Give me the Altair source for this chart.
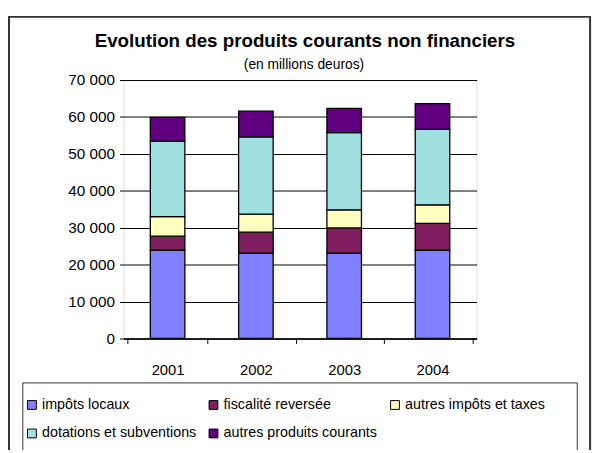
import altair as alt
import pandas as pd

years = ["2001", "2002", "2003", "2004"]
series = ["impôts locaux", "fiscalité reversée", "autres impôts et taxes",
          "dotations et subventions", "autres produits courants"]
impots_locaux = [23900, 23150, 23150, 23900]
fiscalite_reversee = [3800, 5650, 6800, 7300]
autres_impots = [5300, 4900, 4900, 5000]
dotations = [20450, 20900, 20900, 20450]
autres_produits = [6450, 6950, 6600, 6950]
colors = ["#8080FF", "#7F1F5F", "#FFFFC0", "#A0E0E0", "#600080"]
title_text = "Evolution des produits courants non financiers"
subtitle_text = "(en millions deuros)"

values = [impots_locaux, fiscalite_reversee, autres_impots, dotations, autres_produits]
rows = []
for si, (name, vals) in enumerate(zip(series, values)):
    for y, v in zip(years, vals):
        rows.append({"annee": y, "serie": name, "valeur": v, "ordre": si})
df = pd.DataFrame(rows)

FONT = "Liberation Sans"
W, H = 358, 262
PL, PT, PR, PB = 117, 70, 122, 110

bars = alt.Chart(df).mark_bar(size=35, stroke="black", strokeWidth=1.3).encode(
    x=alt.X("annee:N", title=None, sort=years,
            axis=alt.Axis(labelAngle=0, labelFont=FONT, labelFontSize=15,
                          labelColor="black", domainColor="black", domainWidth=1.5,
                          tickColor="black", tickSize=5, tickBand="extent",
                          labelPadding=19)),
    y=alt.Y("valeur:Q", stack="zero", title=None,
            scale=alt.Scale(domain=[0, 70000], nice=False),
            axis=alt.Axis(values=list(range(0, 70001, 10000)),
                          labelExpr="replace(format(datum.value, ','), ',', ' ')",
                          labelFont=FONT, labelFontSize=15.5, labelColor="black",
                          domain=False, tickColor="black", tickSize=4,
                          gridColor="black", gridWidth=1, labelPadding=5)),
    color=alt.Color("serie:N", sort=series,
                    scale=alt.Scale(domain=series, range=colors),
                    legend=alt.Legend(title=None, orient="none", legendX=-100,
                                      legendY=322, columns=3, direction="horizontal",
                                      gridAlign="all",
                                      symbolType="square", symbolSize=80,
                                      symbolStrokeColor="black", symbolStrokeWidth=1,
                                      labelFont=FONT, labelFontSize=14.5,
                                      labelColor="black", columnPadding=10,
                                      rowPadding=14, labelOffset=3)),
    order=alt.Order("ordre:Q", sort="ascending"),
)

one = pd.DataFrame({"a": [0]})
outer = alt.Chart(one).mark_rect(
    fill=None, stroke="#333333", strokeWidth=2, clip=False).encode(
    x=alt.value(-116), x2=alt.value(W + 115), y=alt.value(-64), y2=alt.value(H + 200))

legbox = alt.Chart(one).mark_rect(
    fill=None, stroke="#333333", strokeWidth=1, clip=False).encode(
    x=alt.value(-102), x2=alt.value(W + 102), y=alt.value(H + 45), y2=alt.value(H + 200))

title = alt.Chart(one).mark_text(
    font=FONT, fontSize=19, fontWeight="bold", color="black", align="center",
    baseline="alphabetic", clip=False).encode(
    x=alt.value(W / 2 + 5), y=alt.value(-33), text=alt.value(title_text))

subtitle = alt.Chart(one).mark_text(
    font=FONT, fontSize=14, color="black", align="center",
    baseline="alphabetic", clip=False).encode(
    x=alt.value(W / 2 + 4), y=alt.value(-11), text=alt.value(subtitle_text))

chart = alt.layer(outer, legbox, title, subtitle, bars).properties(
    width=W, height=H,
    autosize=alt.AutoSizeParams(type="none"),
    padding={"left": PL, "top": PT, "right": PR, "bottom": PB},
).configure_view(
    fill="#C0C0C0", stroke="#808080", strokeWidth=2
).configure(background="white")

chart.save("out.html", embed_options={"renderer": "svg", "actions": False})
